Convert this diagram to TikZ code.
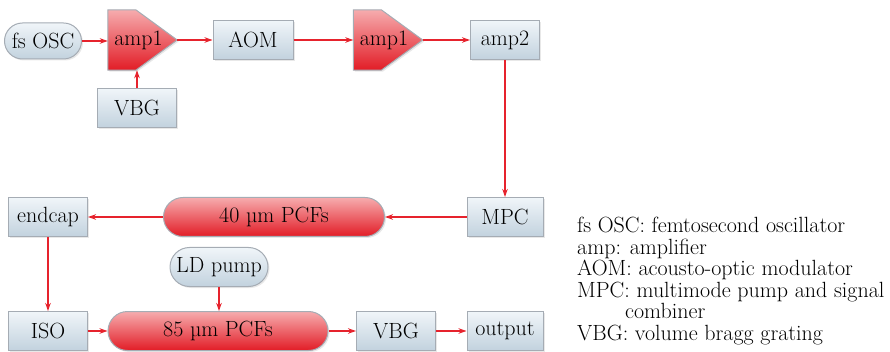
\documentclass[tikz,border=0pt]{standalone}
\usepackage{fontspec}
\usetikzlibrary{shapes.misc,arrows.meta,shadows,calc}
\pgfdeclarelayer{background}
\pgfsetlayers{background,main}
\definecolor{ared}{RGB}{230,35,45}
\definecolor{boxtop}{RGB}{240,245,249}
\definecolor{boxbot}{RGB}{194,210,222}
\definecolor{boxedge}{RGB}{165,172,180}
\definecolor{redtop}{RGB}{246,172,174}
\definecolor{redmid}{RGB}{236,62,68}
\definecolor{redbot}{RGB}{226,28,38}
\tikzset{
 txt/.style={font=\fontsize{22}{26}\selectfont, text=black},
 basebox/.style={txt, draw=boxedge, line width=1pt, inner sep=0pt,
   drop shadow={opacity=0.18, shadow xshift=1.5pt, shadow yshift=-1.5pt}},
 bluebox/.style={basebox, rectangle, top color=boxtop, bottom color=boxbot, minimum width=79pt, minimum height=39pt},
 bluepill/.style={basebox, rounded rectangle, top color=boxtop, bottom color=boxbot, minimum height=36pt},
 redpill/.style={basebox, rounded rectangle, top color=redtop, middle color=redmid, bottom color=redbot, minimum height=39pt},
 ampnode/.style={txt, rectangle, inner sep=0pt, minimum width=69pt, minimum height=60pt},
 ampfill/.style={draw=boxedge, line width=1pt, top color=redtop, middle color=redmid, bottom color=redbot,
   drop shadow={opacity=0.18, shadow xshift=1.5pt, shadow yshift=-1.5pt}},
 conn/.style={draw=ared, line width=1.2pt, -{Stealth[length=8pt,width=5.5pt]}},
 legend/.style={txt, anchor=base west, inner sep=0pt},
}
\begin{document}
\begin{tikzpicture}[x=1pt,y=-1pt]
\useasboundingbox (0,0) rectangle (890,352);
% top row
\node[bluepill, minimum width=77pt] (fsosc) at (43,41) {fs OSC};
\node[ampnode] (ampa) at (142.5,40) {amp1\hspace*{8pt}};
\node[bluebox] (vbga) at (137,108) {VBG};
\node[bluebox, minimum width=80pt] (aom) at (253,40) {AOM};
\node[ampnode] (ampb) at (388,40) {amp1\hspace*{8pt}};
\node[bluebox, minimum width=69pt] (amp2) at (505,40) {amp2};
\begin{pgfonlayer}{background}
\foreach \a in {ampa,ampb}
  \path[ampfill] (\a.north west) -- ($(\a.north west)+(28,0)$) -- (\a.east)
     -- ($(\a.south west)+(28,0)$) -- (\a.south west) -- cycle;
\end{pgfonlayer}
% middle row
\node[bluebox, minimum width=76pt] (mpc) at (505,217) {MPC};
\node[redpill, minimum width=221pt] (pcfa) at (274,217) {40 µm PCFs};
\node[bluebox] (endcap) at (48,217) {endcap};
\node[bluepill, minimum width=98pt, minimum height=39pt] (ld) at (219,267) {LD pump};
% bottom row
\node[bluebox] (iso) at (48,331) {ISO};
\node[redpill, minimum width=220pt] (pcfb) at (218,331) {85 µm PCFs};
\node[bluebox] (vbgb) at (396,331) {VBG};
\node[bluebox, minimum width=76pt] (out) at (505,331) {output};
% connectors
\draw[conn] (fsosc.east) -- (fsosc.east -| ampa.west);
\draw[conn] (vbga.north) -- (vbga.north |- ampa.south);
\draw[conn] (ampa.east) -- (aom.west |- ampa.east);
\draw[conn] (aom.east |- ampb.west) -- (ampb.west);
\draw[conn] (ampb.east) -- (amp2.west |- ampb.east);
\draw[conn] (amp2.south) -- (mpc.north);
\draw[conn] (mpc.west) -- (pcfa.east);
\draw[conn] (pcfa.west) -- (endcap.east);
\draw[conn] (endcap.south) -- (iso.north);
\draw[conn] (ld.south) -- (ld.south |- pcfb.north);
\draw[conn] (iso.east) -- (pcfb.west);
\draw[conn] (pcfb.east) -- (vbgb.west);
\draw[conn] (vbgb.east) -- (out.west);
% legend
\node[legend] (l1) at (577,233) {fs OSC: femtosecond oscillator};
\node[legend] (l2) at (577,254.4) {amp: amplifier};
\node[legend] (l3) at (577,275.8) {AOM: acousto-optic modulator};
\node[legend] (l4) at (577,297.2) {MPC: multimode pump and signal};
\node[legend] (l5) at (625,318.6) {combiner};
\node[legend] (l6) at (577,340) {VBG: volume bragg grating};
\end{tikzpicture}
\end{document}
